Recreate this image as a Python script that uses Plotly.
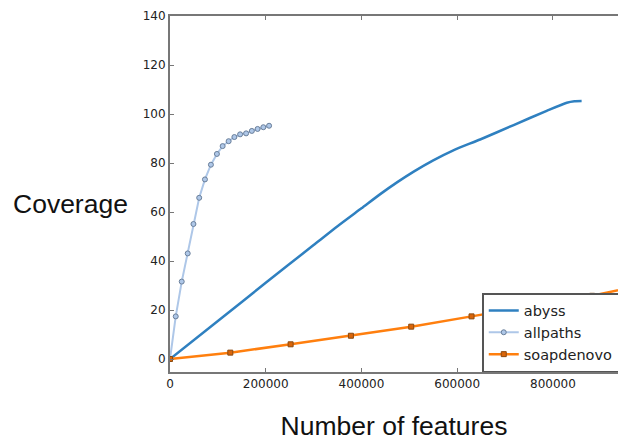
import plotly.graph_objects as go

abyss_x = [0, 100000, 200000, 300000, 350000, 400000, 440000, 475000, 510000, 550000, 592000,
           648000, 718000, 787000, 829000, 845000, 860000]
abyss_y = [0, 15.5, 31.1, 46.5, 54.2, 61.5, 67.4, 72.2, 76.6, 81.1, 85.2,
           89.6, 95.5, 101.3, 104.6, 105.2, 105.3]

allpaths_x = [0, 12000, 24500, 37000, 49000, 61000, 73000, 85500, 98000, 110000, 122500,
              134500, 146500, 159000, 171000, 183000, 195000, 207000]
allpaths_y = [0, 17.4, 31.6, 43.1, 55.1, 65.8, 73.3, 79.3, 83.7, 86.9, 88.9,
              90.6, 91.7, 92.1, 93.1, 93.9, 94.6, 95.2]

soap_x = [0, 126000, 252000, 378000, 504000, 630000, 756000, 882000, 1008000]
soap_y = [0, 2.6, 6.0, 9.5, 13.2, 17.4, 21.5, 25.8, 31.0]

x_ticks = [0, 200000, 400000, 600000, 800000]
y_ticks = [0, 20, 40, 60, 80, 100, 120, 140]

fig = go.Figure()
fig.add_trace(go.Scatter(x=abyss_x, y=abyss_y, mode="lines", name="abyss",
                         line=dict(color="#2f80c0", width=2.5, shape="spline", smoothing=0.6)))
fig.add_trace(go.Scatter(x=allpaths_x, y=allpaths_y, mode="lines+markers", name="allpaths",
                         line=dict(color="#aec7e8", width=2),
                         marker=dict(symbol="circle", size=5, color="#aec7e8",
                                     line=dict(color="#6a7f9a", width=1))))
fig.add_trace(go.Scatter(x=soap_x, y=soap_y, mode="lines+markers", name="soapdenovo",
                         line=dict(color="#ff7f0e", width=2.5),
                         marker=dict(symbol="square", size=5, color="#d9650a",
                                     line=dict(color="#8a4a10", width=1))))

axis_common = dict(showgrid=False, zeroline=False, showline=True, linecolor="#777",
                   linewidth=2, ticks="inside", ticklen=4, tickcolor="#777",
                   tickfont=dict(family="DejaVu Sans", size=12, color="#222"))

fig.update_xaxes(range=[0, 936000], tickvals=x_ticks, ticktext=[str(v) for v in x_ticks],
                 mirror="allticks",
                 title=dict(text="Number of features", font=dict(family="Liberation Sans", size=26.5, color="#111"),
                            standoff=26),
                 **axis_common)
fig.update_yaxes(range=[-5.3, 140], tickvals=y_ticks, ticktext=[str(v) for v in y_ticks],
                 **axis_common)

fig.add_annotation(text="Coverage", xref="paper", yref="paper", x=-0.221, y=0.472,
                   xanchor="center", yanchor="middle", showarrow=False,
                   font=dict(family="Liberation Sans", size=26.5, color="#111"))

fig.update_layout(
    width=618, height=444,
    margin=dict(l=170, r=0, t=16, b=72, autoexpand=False),
    plot_bgcolor="white", paper_bgcolor="white",
    legend=dict(x=0.697, y=0, xanchor="left", yanchor="bottom",
                bgcolor="white", bordercolor="#555", borderwidth=1.5,
                font=dict(family="DejaVu Sans", size=14.5, color="#222"),
                tracegroupgap=0),
)

fig.write_html("out.html")
